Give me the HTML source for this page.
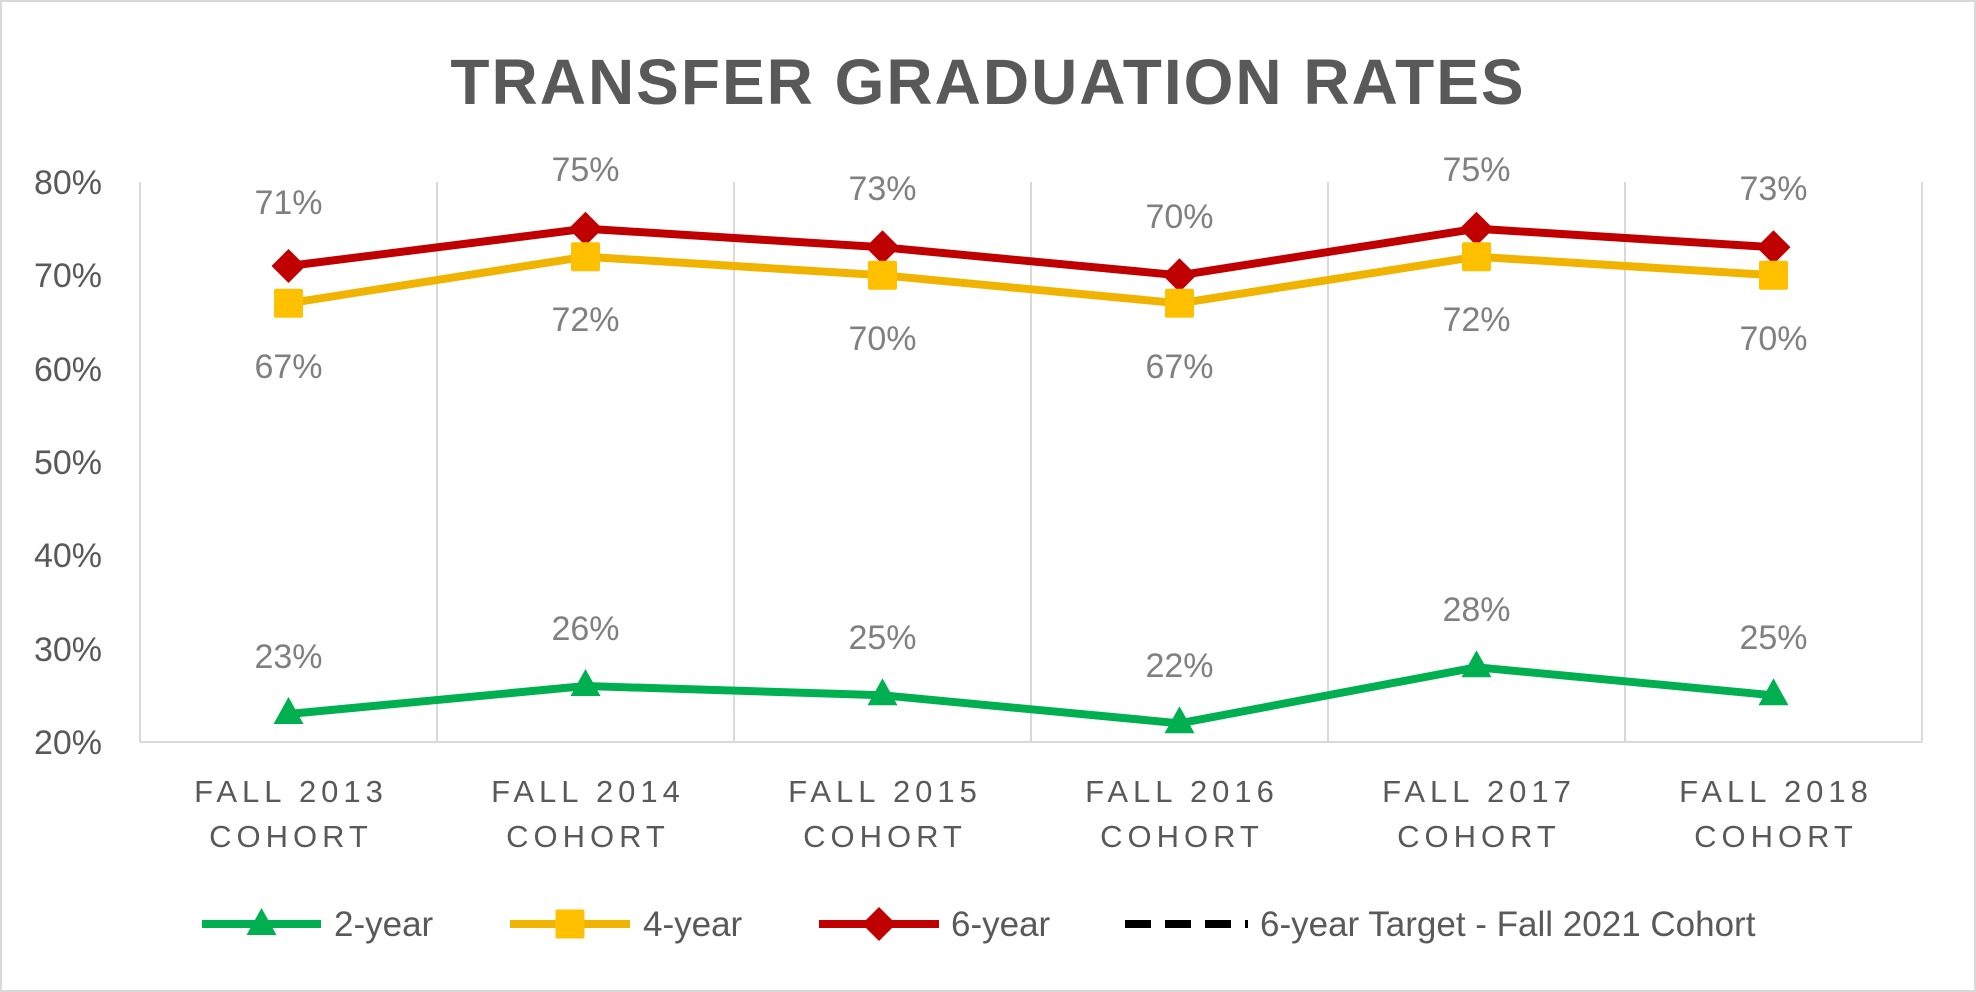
<!DOCTYPE html>
<html><head><meta charset="utf-8"><style>
html,body{margin:0;padding:0;background:#fff;}
svg{display:block;font-family:"Liberation Sans",sans-serif;}
</style></head><body>
<svg width="1976" height="992" viewBox="0 0 1976 992" xmlns="http://www.w3.org/2000/svg">
<rect x="1" y="1" width="1974" height="990" fill="#fff" stroke="#d9d9d9" stroke-width="2"/>
<text x="988" y="104" text-anchor="middle" font-size="64" font-weight="bold" fill="#595959" letter-spacing="2">TRANSFER GRADUATION RATES</text>
<g stroke="#d9d9d9" stroke-width="2">
<line x1="140" y1="182" x2="140" y2="742"/><line x1="437" y1="182" x2="437" y2="742"/>
<line x1="734" y1="182" x2="734" y2="742"/><line x1="1031" y1="182" x2="1031" y2="742"/>
<line x1="1328" y1="182" x2="1328" y2="742"/><line x1="1625" y1="182" x2="1625" y2="742"/>
<line x1="1922" y1="182" x2="1922" y2="742"/><line x1="140" y1="742" x2="1922" y2="742"/>
</g>
<g font-size="34" fill="#595959" text-anchor="end">
<text x="102" y="194">80%</text><text x="102" y="287">70%</text><text x="102" y="381">60%</text>
<text x="102" y="474">50%</text><text x="102" y="567">40%</text><text x="102" y="661">30%</text><text x="102" y="754">20%</text>
</g>
<g font-size="31" fill="#595959" text-anchor="middle" letter-spacing="5">
<text x="291" y="802">FALL 2013</text><text x="291" y="847">COHORT</text>
<text x="588" y="802">FALL 2014</text><text x="588" y="847">COHORT</text>
<text x="885" y="802">FALL 2015</text><text x="885" y="847">COHORT</text>
<text x="1182" y="802">FALL 2016</text><text x="1182" y="847">COHORT</text>
<text x="1479" y="802">FALL 2017</text><text x="1479" y="847">COHORT</text>
<text x="1776" y="802">FALL 2018</text><text x="1776" y="847">COHORT</text>
</g>
<polyline fill="none" stroke="#c00000" stroke-width="8" points="288.5,266 585.5,228.7 882.5,247.3 1179.5,275.3 1476.5,228.7 1773.5,247.3"/>
<polyline fill="none" stroke="#f0b400" stroke-width="8" points="288.5,303.3 585.5,256.7 882.5,275.3 1179.5,303.3 1476.5,256.7 1773.5,275.3"/>
<polyline fill="none" stroke="#00b050" stroke-width="8" points="288.5,714 585.5,686 882.5,695.3 1179.5,723.3 1476.5,667.3 1773.5,695.3"/>
<g fill="#c00000">
<path d="M288.5,249 l17,17 l-17,17 l-17,-17z"/><path d="M585.5,211.7 l17,17 l-17,17 l-17,-17z"/>
<path d="M882.5,230.3 l17,17 l-17,17 l-17,-17z"/><path d="M1179.5,258.3 l17,17 l-17,17 l-17,-17z"/>
<path d="M1476.5,211.7 l17,17 l-17,17 l-17,-17z"/><path d="M1773.5,230.3 l17,17 l-17,17 l-17,-17z"/>
</g>
<g fill="#ffc000">
<rect x="274" y="288.8" width="29" height="29" rx="2"/><rect x="571" y="242.2" width="29" height="29" rx="2"/>
<rect x="868" y="260.8" width="29" height="29" rx="2"/><rect x="1165" y="288.8" width="29" height="29" rx="2"/>
<rect x="1462" y="242.2" width="29" height="29" rx="2"/><rect x="1759" y="260.8" width="29" height="29" rx="2"/>
</g>
<g fill="#00b050">
<path d="M288.5,697 l15,27 h-30z"/><path d="M585.5,669 l15,27 h-30z"/><path d="M882.5,678.3 l15,27 h-30z"/>
<path d="M1179.5,706.3 l15,27 h-30z"/><path d="M1476.5,650.3 l15,27 h-30z"/><path d="M1773.5,678.3 l15,27 h-30z"/>
</g>
<g font-size="34" fill="#808080" text-anchor="middle">
<text x="288.5" y="214">71%</text><text x="585.5" y="181">75%</text><text x="882.5" y="200">73%</text>
<text x="1179.5" y="228">70%</text><text x="1476.5" y="181">75%</text><text x="1773.5" y="200">73%</text>
<text x="288.5" y="378">67%</text><text x="585.5" y="331">72%</text><text x="882.5" y="350">70%</text>
<text x="1179.5" y="378">67%</text><text x="1476.5" y="331">72%</text><text x="1773.5" y="350">70%</text>
<text x="288.5" y="668">23%</text><text x="585.5" y="640">26%</text><text x="882.5" y="649">25%</text>
<text x="1179.5" y="677">22%</text><text x="1476.5" y="621">28%</text><text x="1773.5" y="649">25%</text>
</g>
<g font-size="35" fill="#595959">
<line x1="202" y1="924" x2="321" y2="924" stroke="#00b050" stroke-width="8"/>
<path d="M261.5,908 l15,27 h-30z" fill="#00b050"/>
<text x="334" y="936">2-year</text>
<line x1="510" y1="924" x2="630" y2="924" stroke="#f0b400" stroke-width="8"/>
<rect x="555.5" y="909.5" width="29" height="29" rx="2" fill="#ffc000"/>
<text x="643" y="936">4-year</text>
<line x1="819" y1="924" x2="939" y2="924" stroke="#c00000" stroke-width="8"/>
<path d="M879,907 l17,17 l-17,17 l-17,-17z" fill="#c00000"/>
<text x="951" y="936">6-year</text>
<line x1="1125" y1="924" x2="1248" y2="924" stroke="#000" stroke-width="8" stroke-dasharray="26,14"/>
<text x="1260" y="936">6-year Target - Fall 2021 Cohort</text>
</g>
</svg>
</body></html>
